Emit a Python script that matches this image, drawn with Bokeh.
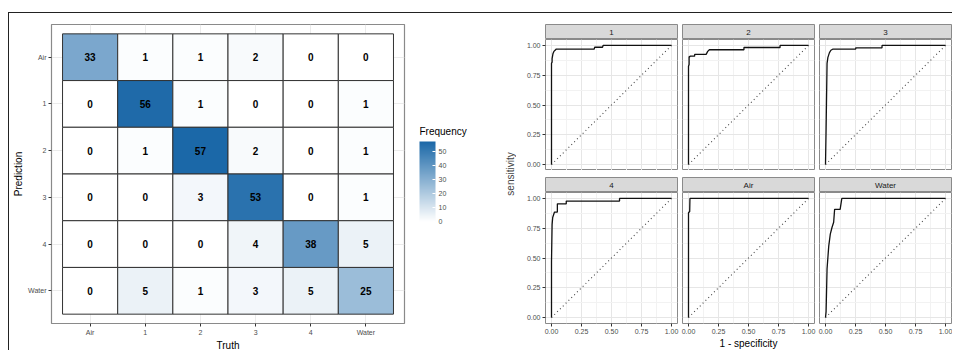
import numpy as np
from bokeh.plotting import figure
from bokeh.models import (ColumnDataSource, FactorRange, Range1d, LinearColorMapper, ColorBar,
                          FixedTicker, NumeralTickFormatter, Label)
from bokeh.layouts import row, column
from bokeh.core.properties import value
from bokeh.embed import file_html
from bokeh.resources import INLINE

# ---------------- data ----------------
truth_labels = ["Air", "1", "2", "3", "4", "Water"]
pred_labels = ["Air", "1", "2", "3", "4", "Water"]
pred_air = [33, 1, 1, 2, 0, 0]
pred_1 = [0, 56, 1, 0, 0, 1]
pred_2 = [0, 1, 57, 2, 0, 1]
pred_3 = [0, 0, 3, 53, 0, 1]
pred_4 = [0, 0, 0, 4, 38, 5]
pred_water = [0, 5, 1, 3, 5, 25]
legend_ticks = [0, 10, 20, 30, 40, 50]

roc_classes = ["1", "2", "3", "4", "Air", "Water"]
fpr_1 = [0, 0, 0.005, 0.005, 0.012, 0.02, 0.03, 0.04, 0.356, 0.36, 0.425, 0.43, 1]
tpr_1 = [0, 0.85, 0.86, 0.89, 0.93, 0.95, 0.96, 0.97, 0.97, 0.985, 0.985, 1, 1]
fpr_2 = [0, 0, 0.005, 0.005, 0.012, 0.012, 0.051, 0.051, 0.147, 0.16, 0.174, 0.462, 0.462, 0.763, 0.763, 1]
tpr_2 = [0, 0.825, 0.84, 0.905, 0.905, 0.91, 0.91, 0.925, 0.925, 0.95, 0.964, 0.964, 0.983, 0.983, 1, 1]
fpr_3 = [0, 0.005, 0.013, 0.02, 0.033, 0.045, 0.063, 0.252, 0.252, 0.471, 0.471, 1]
tpr_3 = [0, 0.3, 0.85, 0.9, 0.94, 0.96, 0.97, 0.97, 0.98, 0.98, 1, 1]
fpr_4 = [0, 0, 0.005, 0.01, 0.025, 0.049, 0.049, 0.123, 0.123, 0.567, 0.567, 1]
tpr_4 = [0, 0.47, 0.78, 0.84, 0.886, 0.886, 0.955, 0.955, 0.978, 0.978, 1, 1]
fpr_air = [0, 0, 0.01, 0.012, 1]
tpr_air = [0, 0.88, 0.89, 1, 1]
fpr_water = [0, 0.005, 0.013, 0.027, 0.04, 0.054, 0.068, 0.076, 0.122, 0.136, 1]
tpr_water = [0, 0.05, 0.41, 0.6, 0.7, 0.756, 0.8, 0.908, 0.908, 1, 1]
grid_major = [0, 0.25, 0.5, 0.75, 1]
grid_minor = [0.125, 0.375, 0.625, 0.875]

FONT = "Liberation Sans"
BORDER = "#8a8a8a"

# ---------------- confusion matrix ----------------
rows = [pred_air, pred_1, pred_2, pred_3, pred_4, pred_water]
xs, ys, cs = [], [], []
for pl, r in zip(pred_labels, rows):
    for tl, c in zip(truth_labels, r):
        xs.append(tl); ys.append(pl); cs.append(c)
src = ColumnDataSource(dict(truth=xs, pred=ys, count=cs, label=[str(c) for c in cs]))

lo = np.array([255, 255, 255]); hi = np.array([27, 104, 168])
palette = ["#%02x%02x%02x" % tuple(int(round(v)) for v in lo + (hi - lo) * t) for t in np.linspace(0, 1, 256)]
mapper = LinearColorMapper(palette=palette, low=0, high=max(cs))

CM_FH = 299
cm = figure(x_range=FactorRange(factors=truth_labels, range_padding=0.2, range_padding_units="absolute"),
            y_range=FactorRange(factors=pred_labels[::-1], range_padding=0.2, range_padding_units="absolute"),
            frame_width=353, frame_height=CM_FH, min_border_left=42, min_border_right=15,
            min_border_top=11, min_border_bottom=0, toolbar_location=None, output_backend="svg",
            outline_line_color=BORDER, outline_line_width=1.2)
cm.rect(x="truth", y="pred", width=1, height=1, source=src,
        fill_color={"field": "count", "transform": mapper}, line_color="#333333", line_width=1)
cm.text(x="truth", y="pred", text="label", source=src, text_align="center", text_baseline="middle",
        text_font=value(FONT), text_font_style="bold", text_font_size="10px", text_color="black")
cm.xgrid.grid_line_color = "#ebebeb"
cm.ygrid.grid_line_color = "#ebebeb"
cm.xaxis.axis_label = "Truth"
cm.yaxis.axis_label = "Prediction"
for ax in (cm.xaxis[0], cm.yaxis[0]):
    ax.axis_line_color = None
    ax.major_tick_line_color = "#333333"
    ax.major_tick_out = 3
    ax.major_tick_in = 0
    ax.minor_tick_line_color = None
    ax.major_label_standoff = 2
    ax.major_label_text_font = FONT
    ax.major_label_text_font_size = "7px"
    ax.major_label_text_color = "#4d4d4d"
    ax.axis_label_text_font = FONT
    ax.axis_label_text_font_size = "10px"
    ax.axis_label_text_font_style = "normal"
    ax.axis_label_text_color = "black"
    ax.axis_label_standoff = 1

# ---------------- legend figure (colour bar + title) ----------------
leg = figure(frame_width=60, frame_height=CM_FH, min_border_left=0, min_border_right=16,
             min_border_top=11, min_border_bottom=0, x_range=Range1d(0, 1), y_range=Range1d(0, 1),
             x_axis_location=None, y_axis_location=None, toolbar_location=None, output_backend="svg",
             outline_line_color=None)
leg.xgrid.visible = False
leg.ygrid.visible = False
cb = ColorBar(color_mapper=mapper, ticker=FixedTicker(ticks=legend_ticks), width=16, height=80,
              location=(0, 102), margin=0, padding=0,
              major_label_text_font=FONT, major_label_text_font_size="7px",
              major_label_text_color="#4d4d4d", label_standoff=3,
              major_tick_line_color="white", major_tick_in=3, major_tick_out=0,
              bar_line_color=None, border_line_color=None, background_fill_color=None)
leg.add_layout(cb)
leg.add_layout(Label(x=0, y=192, x_units="screen", y_units="screen", text="Frequency",
                     text_font=FONT, text_font_size="10px", text_color="black",
                     text_align="left", text_baseline="middle"))

# ---------------- sensitivity label holder ----------------
lab = figure(frame_width=1, frame_height=CM_FH, min_border_left=20, min_border_right=0,
             min_border_top=11, min_border_bottom=0, x_range=Range1d(0, 1), y_range=Range1d(0, 1),
             x_axis_location=None, toolbar_location=None, output_backend="svg", outline_line_color=None)
lab.yaxis.ticker = FixedTicker(ticks=[])
lab.yaxis.axis_label = "sensitivity"
lab.yaxis.axis_line_color = None
lab.yaxis.major_tick_out = 0
lab.yaxis.major_label_standoff = 0
lab.yaxis.axis_label_standoff = 0
lab.yaxis.axis_label_text_font = FONT
lab.yaxis.axis_label_text_font_size = "10px"
lab.yaxis.axis_label_text_font_style = "normal"
lab.xgrid.visible = False
lab.ygrid.visible = False

# ---------------- ROC facets ----------------
roc_x = [fpr_1, fpr_2, fpr_3, fpr_4, fpr_air, fpr_water]
roc_y = [tpr_1, tpr_2, tpr_3, tpr_4, tpr_air, tpr_water]
col_borders = [(29, 2), (3, 2), (3, 1)]
FW, FH, SH = 132, 131, 15


def make_strip(name, ci, top):
    bl, br = col_borders[ci]
    s = figure(frame_width=FW, frame_height=SH, min_border_left=bl, min_border_right=br,
               min_border_top=top, min_border_bottom=0, x_range=Range1d(0, 1), y_range=Range1d(0, 1),
               x_axis_location=None, y_axis_location=None, toolbar_location=None, output_backend="svg",
               background_fill_color="#d9d9d9", outline_line_color=BORDER, outline_line_width=1)
    s.xgrid.visible = False
    s.ygrid.visible = False
    s.text(x=[0.5], y=[0.5], text=[name], text_align="center", text_baseline="middle",
           text_font=value(FONT), text_font_size="8px", text_color="#1a1a1a")
    return s


def make_panel(i, ci, ri):
    bl, br = col_borders[ci]
    p = figure(frame_width=FW, frame_height=FH, min_border_left=bl, min_border_right=br,
               min_border_top=0, min_border_bottom=0,
               x_range=Range1d(-0.05, 1.05), y_range=Range1d(-0.05, 1.05),
               x_axis_location="below" if ri == 1 else None,
               y_axis_location="left" if ci == 0 else None,
               toolbar_location=None, output_backend="svg",
               outline_line_color=BORDER, outline_line_width=1)
    tk = FixedTicker(ticks=grid_major, minor_ticks=grid_minor)
    p.xgrid.ticker = tk
    p.ygrid.ticker = tk
    for g in (p.xgrid[0], p.ygrid[0]):
        g.grid_line_color = "#e6e6e6"
        g.grid_line_width = 1
        g.minor_grid_line_color = "#f2f2f2"
        g.minor_grid_line_width = 1
    for ax in list(p.xaxis) + list(p.yaxis):
        ax.ticker = FixedTicker(ticks=grid_major)
        ax.formatter = NumeralTickFormatter(format="0.00")
        ax.axis_line_color = None
        ax.major_tick_line_color = "#333333"
        ax.major_tick_out = 3
        ax.major_tick_in = 0
        ax.minor_tick_line_color = None
        ax.major_label_standoff = 2
        ax.major_label_text_font = FONT
        ax.major_label_text_font_size = "7px"
        ax.major_label_text_color = "#4d4d4d"
        ax.axis_label_text_font = FONT
        ax.axis_label_text_font_size = "10px"
        ax.axis_label_text_font_style = "normal"
        ax.axis_label_text_color = "black"
        ax.axis_label_standoff = 1
    if ri == 1 and ci == 1:
        p.xaxis.axis_label = "1 - specificity"
    p.line(x=grid_major[::4], y=grid_major[::4], line_color="#444444", line_width=1.1, line_dash="1 3")
    p.line(x=roc_x[i], y=roc_y[i], line_color="#111111", line_width=1.3)
    return p


cols = []
for ci in range(3):
    ch = []
    for ri in range(2):
        i = ri * 3 + ci
        ch.append(make_strip(roc_classes[i], ci, 11 if ri == 0 else 7))
        ch.append(make_panel(i, ci, ri))
    cols.append(column(*ch, spacing=0))

layout = row(cm, leg, lab, *cols, spacing=0, margin=(12, 0, 0, 8),
             styles={"border-top": "1px solid #222222", "border-left": "1px solid #222222"})

open("out.html", "w").write(file_html(layout, INLINE))
